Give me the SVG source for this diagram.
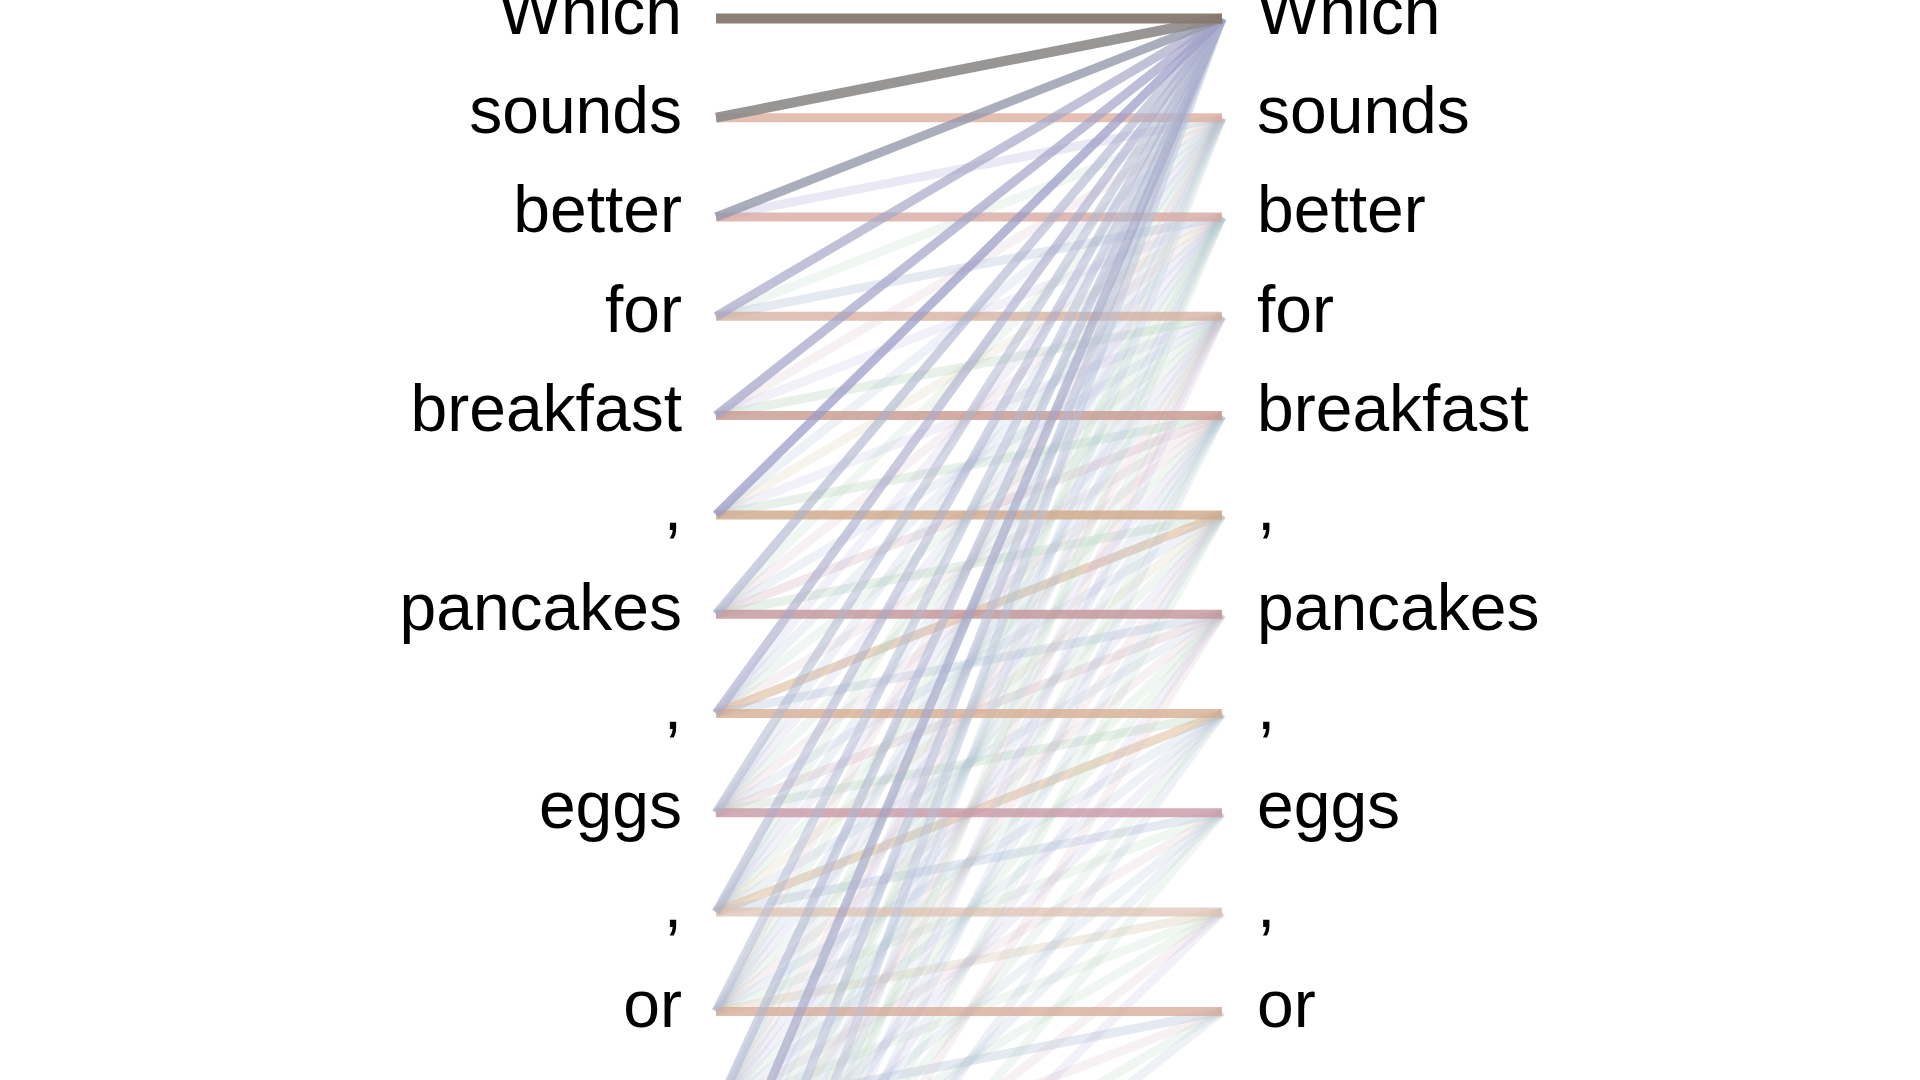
<svg xmlns="http://www.w3.org/2000/svg" width="1920" height="1080" viewBox="0 0 1920 1080">
<style>
.tok{font-family:"Liberation Sans",Arial,Helvetica,sans-serif;font-size:66px;fill:#000}
.lt{text-anchor:end}
.rt{text-anchor:start}
#connectors line{stroke-width:9;stroke-linecap:butt;fill:none}
.c0{stroke:#aabcd6;stroke-opacity:.2}
.c1{stroke:#b4d2bc;stroke-opacity:.2}
.c2{stroke:#d8b8c2;stroke-opacity:.2}
.c3{stroke:#bcb6dc;stroke-opacity:.2}
.c4{stroke:#d6c6aa;stroke-opacity:.2}
.p{stroke-opacity:.32}
.w{stroke:#a8accc;stroke-opacity:.55}
.s{stroke:#d4a698;stroke-opacity:.75}
</style>
<rect width="1920" height="1080" fill="#ffffff"/>
<g id="connectors">
<line class="c3 p" x1="716" y1="217.0" x2="1222" y2="117.7"/>
<line class="c1" x1="716" y1="316.3" x2="1222" y2="117.7"/>
<line class="c0 p" x1="716" y1="316.3" x2="1222" y2="217.0"/>
<line class="c2" x1="716" y1="415.6" x2="1222" y2="117.7"/>
<line class="c3" x1="716" y1="415.6" x2="1222" y2="217.0"/>
<line class="c1 p" x1="716" y1="415.6" x2="1222" y2="316.3"/>
<line class="c0" x1="716" y1="514.9" x2="1222" y2="117.7"/>
<line class="c4" x1="716" y1="514.9" x2="1222" y2="217.0"/>
<line class="c3" x1="716" y1="514.9" x2="1222" y2="316.3"/>
<line class="c1 p" x1="716" y1="514.9" x2="1222" y2="415.6"/>
<line class="c1" x1="716" y1="614.2" x2="1222" y2="117.7"/>
<line class="c2" x1="716" y1="614.2" x2="1222" y2="217.0"/>
<line class="c0" x1="716" y1="614.2" x2="1222" y2="316.3"/>
<line class="c2 p" x1="716" y1="614.2" x2="1222" y2="415.6"/>
<line class="c1 p" x1="716" y1="614.2" x2="1222" y2="514.9"/>
<line class="c3" x1="716" y1="713.5" x2="1222" y2="117.7"/>
<line class="c0" x1="716" y1="713.5" x2="1222" y2="217.0"/>
<line class="c1" x1="716" y1="713.5" x2="1222" y2="316.3"/>
<line class="c2" x1="716" y1="713.5" x2="1222" y2="415.6"/>
<line class="c4" x1="716" y1="713.5" x2="1222" y2="514.9" style="stroke:#d8b090;stroke-opacity:.55"/>
<line class="c0 p" x1="716" y1="713.5" x2="1222" y2="614.2"/>
<line class="c0" x1="716" y1="812.8" x2="1222" y2="117.7"/>
<line class="c3" x1="716" y1="812.8" x2="1222" y2="217.0"/>
<line class="c1" x1="716" y1="812.8" x2="1222" y2="316.3"/>
<line class="c2" x1="716" y1="812.8" x2="1222" y2="415.6"/>
<line class="c0" x1="716" y1="812.8" x2="1222" y2="514.9"/>
<line class="c2 p" x1="716" y1="812.8" x2="1222" y2="614.2"/>
<line class="c1 p" x1="716" y1="812.8" x2="1222" y2="713.5"/>
<line class="c1" x1="716" y1="912.1" x2="1222" y2="117.7"/>
<line class="c0" x1="716" y1="912.1" x2="1222" y2="217.0"/>
<line class="c3" x1="716" y1="912.1" x2="1222" y2="316.3"/>
<line class="c1" x1="716" y1="912.1" x2="1222" y2="415.6"/>
<line class="c4" x1="716" y1="912.1" x2="1222" y2="514.9"/>
<line class="c0" x1="716" y1="912.1" x2="1222" y2="614.2"/>
<line class="c4" x1="716" y1="912.1" x2="1222" y2="713.5" style="stroke:#dcb692;stroke-opacity:.5"/>
<line class="c0 p" x1="716" y1="912.1" x2="1222" y2="812.8"/>
<line class="c2" x1="716" y1="1011.4" x2="1222" y2="117.7"/>
<line class="c1" x1="716" y1="1011.4" x2="1222" y2="217.0"/>
<line class="c0" x1="716" y1="1011.4" x2="1222" y2="316.3"/>
<line class="c3" x1="716" y1="1011.4" x2="1222" y2="415.6"/>
<line class="c1" x1="716" y1="1011.4" x2="1222" y2="514.9"/>
<line class="c2" x1="716" y1="1011.4" x2="1222" y2="614.2"/>
<line class="c0" x1="716" y1="1011.4" x2="1222" y2="713.5"/>
<line class="c1" x1="716" y1="1011.4" x2="1222" y2="812.8"/>
<line class="c4 p" x1="716" y1="1011.4" x2="1222" y2="912.1"/>
<line class="c0" x1="716" y1="1110.7" x2="1222" y2="117.7"/>
<line class="c1" x1="716" y1="1110.7" x2="1222" y2="217.0"/>
<line class="c2" x1="716" y1="1110.7" x2="1222" y2="316.3"/>
<line class="c0" x1="716" y1="1110.7" x2="1222" y2="415.6"/>
<line class="c3" x1="716" y1="1110.7" x2="1222" y2="514.9"/>
<line class="c1" x1="716" y1="1110.7" x2="1222" y2="614.2"/>
<line class="c0" x1="716" y1="1110.7" x2="1222" y2="713.5"/>
<line class="c2" x1="716" y1="1110.7" x2="1222" y2="812.8"/>
<line class="c1" x1="716" y1="1110.7" x2="1222" y2="912.1"/>
<line class="c0 p" x1="716" y1="1110.7" x2="1222" y2="1011.4"/>
<line class="c3" x1="716" y1="1210.0" x2="1222" y2="117.7"/>
<line class="c0" x1="716" y1="1210.0" x2="1222" y2="217.0"/>
<line class="c1" x1="716" y1="1210.0" x2="1222" y2="316.3"/>
<line class="c0" x1="716" y1="1210.0" x2="1222" y2="415.6"/>
<line class="c2" x1="716" y1="1210.0" x2="1222" y2="514.9"/>
<line class="c1" x1="716" y1="1210.0" x2="1222" y2="614.2"/>
<line class="c3" x1="716" y1="1210.0" x2="1222" y2="713.5"/>
<line class="c0" x1="716" y1="1210.0" x2="1222" y2="812.8"/>
<line class="c1" x1="716" y1="1210.0" x2="1222" y2="912.1"/>
<line class="c2" x1="716" y1="1210.0" x2="1222" y2="1011.4"/>
<line class="c1" x1="716" y1="1309.3" x2="1222" y2="117.7"/>
<line class="c0" x1="716" y1="1309.3" x2="1222" y2="217.0"/>
<line class="c2" x1="716" y1="1309.3" x2="1222" y2="316.3"/>
<line class="c1" x1="716" y1="1309.3" x2="1222" y2="415.6"/>
<line class="c0" x1="716" y1="1309.3" x2="1222" y2="514.9"/>
<line class="c3" x1="716" y1="1309.3" x2="1222" y2="614.2"/>
<line class="c1" x1="716" y1="1309.3" x2="1222" y2="713.5"/>
<line class="c0" x1="716" y1="1309.3" x2="1222" y2="812.8"/>
<line class="c2" x1="716" y1="1309.3" x2="1222" y2="912.1"/>
<line class="c1" x1="716" y1="1309.3" x2="1222" y2="1011.4"/>
<line class="c0" x1="716" y1="1408.6" x2="1222" y2="117.7"/>
<line class="c1" x1="716" y1="1408.6" x2="1222" y2="217.0"/>
<line class="c3" x1="716" y1="1408.6" x2="1222" y2="316.3"/>
<line class="c0" x1="716" y1="1408.6" x2="1222" y2="415.6"/>
<line class="c1" x1="716" y1="1408.6" x2="1222" y2="514.9"/>
<line class="c2" x1="716" y1="1408.6" x2="1222" y2="614.2"/>
<line class="c0" x1="716" y1="1408.6" x2="1222" y2="713.5"/>
<line class="c1" x1="716" y1="1408.6" x2="1222" y2="812.8"/>
<line class="c3" x1="716" y1="1408.6" x2="1222" y2="912.1"/>
<line class="c0" x1="716" y1="1408.6" x2="1222" y2="1011.4"/>
<line class="s" x1="716" y1="117.7" x2="1222" y2="117.7" style="stroke:#dcaa98"/>
<line class="s" x1="716" y1="217.0" x2="1222" y2="217.0" style="stroke:#d4a49c"/>
<line class="s" x1="716" y1="316.3" x2="1222" y2="316.3" style="stroke:#d2a896;stroke-opacity:.7"/>
<line class="s" x1="716" y1="415.6" x2="1222" y2="415.6" style="stroke:#c8988f;stroke-opacity:.8"/>
<line class="s" x1="716" y1="514.9" x2="1222" y2="514.9" style="stroke:#cea888;stroke-opacity:.8"/>
<line class="s" x1="716" y1="614.2" x2="1222" y2="614.2" style="stroke:#c29399;stroke-opacity:.8"/>
<line class="s" x1="716" y1="713.5" x2="1222" y2="713.5" style="stroke:#d6aa8e"/>
<line class="s" x1="716" y1="812.8" x2="1222" y2="812.8" style="stroke:#c899a6;stroke-opacity:.8"/>
<line class="s" x1="716" y1="912.1" x2="1222" y2="912.1" style="stroke:#dcbfae;stroke-opacity:.7"/>
<line class="s" x1="716" y1="1011.4" x2="1222" y2="1011.4" style="stroke:#d4a896"/>
<line class="w" x1="716" y1="1408.6" x2="1222" y2="18.4" style="stroke:#b4bed6;stroke-opacity:.45"/>
<line class="w" x1="716" y1="1309.3" x2="1222" y2="18.4" style="stroke:#b0b8d2;stroke-opacity:.5"/>
<line class="w" x1="716" y1="1210.0" x2="1222" y2="18.4" style="stroke:#a2a4c6;stroke-opacity:.65"/>
<line class="w" x1="716" y1="1110.7" x2="1222" y2="18.4" style="stroke:#acb2ce"/>
<line class="w" x1="716" y1="1011.4" x2="1222" y2="18.4" style="stroke:#b0b8d2;stroke-opacity:.5"/>
<line class="w" x1="716" y1="912.1" x2="1222" y2="18.4" style="stroke-opacity:.5"/>
<line class="w" x1="716" y1="812.8" x2="1222" y2="18.4" style="stroke:#b0b6ce"/>
<line class="w" x1="716" y1="713.5" x2="1222" y2="18.4" style="stroke:#a8a8cc;stroke-opacity:.6"/>
<line class="w" x1="716" y1="614.2" x2="1222" y2="18.4" style="stroke:#aab0cc;stroke-opacity:.6"/>
<line class="w" x1="716" y1="514.9" x2="1222" y2="18.4" style="stroke:#9a9ac6;stroke-opacity:.72"/>
<line class="w" x1="716" y1="415.6" x2="1222" y2="18.4" style="stroke:#a2a2c8;stroke-opacity:.7"/>
<line class="w" x1="716" y1="316.3" x2="1222" y2="18.4" style="stroke:#a6a6c6;stroke-opacity:.7"/>
<line class="w" x1="716" y1="217.0" x2="1222" y2="18.4" style="stroke:#9599ab;stroke-opacity:.8"/>
<line class="w" x1="716" y1="117.7" x2="1222" y2="18.4" style="stroke:#8d8a89;stroke-opacity:.9;stroke-width:10"/>
<line class="w" x1="716" y1="18.4" x2="1222" y2="18.4" style="stroke:#86786f;stroke-opacity:.95;stroke-width:10"/>
</g>
<g id="left-tokens">
<g id="left-0"><text class="tok lt" x="682" y="34">Which</text></g>
<g id="left-1"><text class="tok lt" x="682" y="133">sounds</text></g>
<g id="left-2"><text class="tok lt" x="682" y="232">better</text></g>
<g id="left-3"><text class="tok lt" x="682" y="332">for</text></g>
<g id="left-4"><text class="tok lt" x="682" y="431">breakfast</text></g>
<g id="left-5"><text class="tok lt" x="682" y="530">,</text></g>
<g id="left-6"><text class="tok lt" x="682" y="630">pancakes</text></g>
<g id="left-7"><text class="tok lt" x="682" y="729">,</text></g>
<g id="left-8"><text class="tok lt" x="682" y="828">eggs</text></g>
<g id="left-9"><text class="tok lt" x="682" y="927">,</text></g>
<g id="left-10"><text class="tok lt" x="682" y="1027">or</text></g>
</g>
<g id="right-tokens">
<g id="right-0"><text class="tok rt" x="1257" y="34">Which</text></g>
<g id="right-1"><text class="tok rt" x="1257" y="133">sounds</text></g>
<g id="right-2"><text class="tok rt" x="1257" y="232">better</text></g>
<g id="right-3"><text class="tok rt" x="1257" y="332">for</text></g>
<g id="right-4"><text class="tok rt" x="1257" y="431">breakfast</text></g>
<g id="right-5"><text class="tok rt" x="1257" y="530">,</text></g>
<g id="right-6"><text class="tok rt" x="1257" y="630">pancakes</text></g>
<g id="right-7"><text class="tok rt" x="1257" y="729">,</text></g>
<g id="right-8"><text class="tok rt" x="1257" y="828">eggs</text></g>
<g id="right-9"><text class="tok rt" x="1257" y="927">,</text></g>
<g id="right-10"><text class="tok rt" x="1257" y="1027">or</text></g>
</g>
</svg>
